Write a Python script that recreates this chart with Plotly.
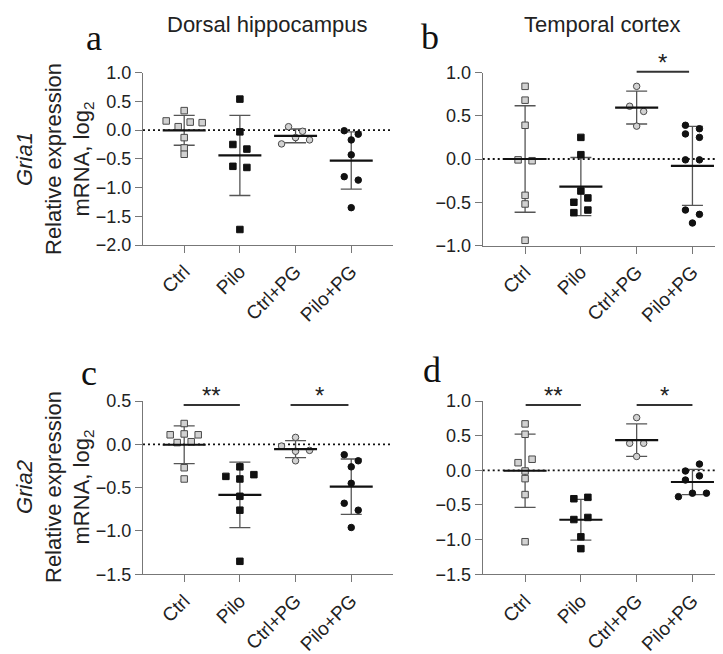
import numpy as np
import plotly.graph_objects as go

# ---------------- data ----------------
categories = ["Ctrl", "Pilo", "Ctrl+PG", "Pilo+PG"]

# a: Gria1, dorsal hippocampus
a_ctrl = [0.16, 0.06, 0.14, 0.13, 0.34, -0.13, -0.31, -0.42]
a_pilo = [0.54, -0.03, -0.25, -0.33, -0.63, -0.65, -1.73]
a_ctrlpg = [0.06, -0.02, -0.24, -0.13, -0.17]
a_pilopg = [-0.01, -0.07, -0.17, -0.43, -0.81, -0.87, -1.35]

# b: Gria1, temporal cortex
b_ctrl = [0.84, 0.68, 0.39, -0.01, -0.02, -0.42, -0.52, -0.94]
b_pilo = [0.25, 0.05, -0.37, -0.50, -0.45, -0.62, -0.59]
b_ctrlpg = [0.84, 0.61, 0.55, 0.38]
b_pilopg = [0.39, 0.35, 0.29, 0.25, -0.01, -0.01, -0.59, -0.64, -0.74]

# c: Gria2, dorsal hippocampus
c_ctrl = [0.24, 0.11, 0.12, 0.11, 0.02, 0.03, -0.27, -0.40]
c_pilo = [-0.26, -0.37, -0.40, -0.35, -0.60, -0.76, -1.35]
c_ctrlpg = [0.08, -0.02, -0.08, -0.07, -0.19]
c_pilopg = [-0.12, -0.19, -0.26, -0.45, -0.68, -0.76, -0.96]

# d: Gria2, temporal cortex
d_ctrl = [0.67, 0.52, 0.11, 0.16, -0.01, -0.12, -0.35, -1.03]
d_pilo = [-0.41, -0.39, -0.71, -0.68, -0.96, -1.13]
d_ctrlpg = [0.76, 0.39, 0.39, 0.20]
d_pilopg = [-0.01, 0.09, -0.14, -0.08, -0.38, -0.33, -0.33]

# significance bars: (panel, from category, to category, height, label)
sig_bars = [
    ("b", 2.0, 2.94, 1.01, "*"),
    ("c", -0.01, 1.0, 0.454, "**"),
    ("c", 1.91, 2.95, 0.454, "*"),
    ("d", 0.01, 1.0, 0.942, "**"),
    ("d", 2.0, 3.0, 0.942, "*"),
]

region_titles = ["Dorsal hippocampus", "Temporal cortex"]
gene_names = ["Gria1", "Gria2"]

# ---------------- layout ----------------
PAGE_W, PAGE_H = 723, 654
BODY = 8                      # default page margin around the plot div
W, H = PAGE_W - BODY, PAGE_H - BODY
FONT = "Liberation Sans, Arial, sans-serif"
SERIF = "Liberation Serif, Times New Roman, serif"
AX = "#777777"

# pixel boxes are given in page pixels
panels = {
    "a": dict(n="", px=[143, 393], py=[72.7, 245.0], xr=[-0.74, 3.75], yr=[-2.0, 1.0],
              data=[a_ctrl, a_pilo, a_ctrlpg, a_pilopg]),
    "b": dict(n="2", px=[482.7, 722], py=[72.5, 245.5], xr=[-0.76, 3.53], yr=[-1.0, 1.0],
              data=[b_ctrl, b_pilo, b_ctrlpg, b_pilopg]),
    "c": dict(n="3", px=[143, 393], py=[401, 574.3], xr=[-0.74, 3.75], yr=[-1.5, 0.5],
              data=[c_ctrl, c_pilo, c_ctrlpg, c_pilopg]),
    "d": dict(n="4", px=[482.7, 722], py=[401, 574.3], xr=[-0.76, 3.53], yr=[-1.5, 1.0],
              data=[d_ctrl, d_pilo, d_ctrlpg, d_pilopg]),
}

group_style = [
    dict(symbol="square", color="#d2d2d2", line="#4a4a4a"),
    dict(symbol="square", color="#111111", line="#111111"),
    dict(symbol="circle", color="#d2d2d2", line="#4a4a4a"),
    dict(symbol="circle", color="#111111", line="#111111"),
]
ROW_PX = {"square": 6.0, "circle": 7.5}   # vertical closeness that puts points in one row
STEP_PX, MAX_ROW_PX = 14.0, 36.0
MEAN_HALF = 0.386   # mean line half-length, category units


def pxp(x):   # page x -> paper
    return (x - BODY) / W


def pyp(y):   # page y -> paper
    return 1 - (y - BODY) / H


def dom(p):
    P = panels[p]
    return [pxp(P["px"][0]), pxp(P["px"][1])], [pyp(P["py"][1]), pyp(P["py"][0])]


def to_paper_x(p, v):
    P = panels[p]; xd, _ = dom(p)
    return xd[0] + (v - P["xr"][0]) / (P["xr"][1] - P["xr"][0]) * (xd[1] - xd[0])


def to_paper_y(p, v):
    P = panels[p]; _, yd = dom(p)
    return yd[0] + (v - P["yr"][0]) / (P["yr"][1] - P["yr"][0]) * (yd[1] - yd[0])


def swarm_offsets(vals, p, symbol):
    """GraphPad-like row layout: close values share a row, spread symmetrically."""
    P = panels[p]
    y_ppu = (P["py"][1] - P["py"][0]) / (P["yr"][1] - P["yr"][0])
    x_ppu = (P["px"][1] - P["px"][0]) / (P["xr"][1] - P["xr"][0])
    thr = ROW_PX[symbol] / y_ppu
    order = sorted(range(len(vals)), key=lambda i: -vals[i])
    rows, cur = [], [order[0]]
    for i in order[1:]:
        if vals[cur[0]] - vals[i] < thr:
            cur.append(i)
        else:
            rows.append(cur); cur = [i]
    rows.append(cur)
    off = [0.0] * len(vals)
    for r in rows:
        r = sorted(r)
        n = len(r)
        if n > 1:
            step = min(STEP_PX, MAX_ROW_PX / (n - 1)) / x_ppu
            for k, i in enumerate(r):
                off[i] = (k - (n - 1) / 2) * step
    return off


fig = go.Figure()
shapes, annotations = [], []

for p, P in panels.items():
    xa, ya = "x" + P["n"], "y" + P["n"]
    # dotted zero line
    fig.add_trace(go.Scatter(x=P["xr"], y=[0, 0], xaxis=xa, yaxis=ya, mode="lines",
                             line=dict(color="#111111", width=1.8, dash="2px,3px"),
                             hoverinfo="skip", showlegend=False))
    for gi, vals in enumerate(P["data"]):
        arr = np.array(vals)
        m, sd = arr.mean(), arr.std(ddof=1)
        st = group_style[gi]
        # SD error bar
        fig.add_trace(go.Scatter(x=[gi], y=[m], xaxis=xa, yaxis=ya, mode="markers",
                                 marker=dict(size=1, color="rgba(0,0,0,0)"),
                                 error_y=dict(type="data", array=[sd], visible=True,
                                              color="#555555", thickness=1.3, width=10.5),
                                 hoverinfo="skip", showlegend=False))
        offs = swarm_offsets(vals, p, st["symbol"])
        fig.add_trace(go.Scatter(x=[gi + o for o in offs], y=vals, xaxis=xa, yaxis=ya,
                                 mode="markers",
                                 marker=dict(symbol=st["symbol"], size=6.5, color=st["color"],
                                             line=dict(color=st["line"], width=1)),
                                 showlegend=False))
        shapes.append(dict(type="line", xref=xa, yref=ya, x0=gi - MEAN_HALF, x1=gi + MEAN_HALF,
                           y0=m, y1=m, line=dict(color="#111111", width=2.2), layer="above"))

for (p, x0, x1, yv, lab) in sig_bars:
    yp = to_paper_y(p, yv)
    shapes.append(dict(type="line", xref="paper", yref="paper",
                       x0=to_paper_x(p, x0), x1=to_paper_x(p, x1), y0=yp, y1=yp,
                       line=dict(color="#333333", width=2)))
    annotations.append(dict(text=lab, xref="paper", yref="paper",
                            x=to_paper_x(p, (x0 + x1) / 2), y=yp, xanchor="center",
                            yanchor="bottom", showarrow=False, yshift=-6,
                            font=dict(family=FONT, size=24, color="#222222")))

# region titles
for txt, xc in zip(region_titles, [267, 602.5]):
    annotations.append(dict(text=txt, xref="paper", yref="paper", x=pxp(xc), y=pyp(25),
                            xanchor="center", yanchor="middle", showarrow=False,
                            font=dict(family=FONT, size=22, color="#222222")))

# y-axis titles (three lines, rotated)
for gene, yc in zip(gene_names, [159, 487]):
    annotations.append(dict(text=f"<i>{gene}</i><br>Relative expression<br>mRNA, log<sub>2</sub>",
                            xref="paper", yref="paper", x=pxp(54), y=pyp(yc),
                            xanchor="center", yanchor="middle", textangle=-90,
                            showarrow=False, font=dict(family=FONT, size=22, color="#222222")))

# panel letters
for lab, (lx, ly) in zip("abcd", [(84, 38), (419, 37), (79, 373), (421, 370)]):
    annotations.append(dict(text=lab, xref="paper", yref="paper", x=pxp(lx), y=pyp(ly),
                            xanchor="left", yanchor="middle", showarrow=False,
                            font=dict(family=SERIF, size=36, color="#111111")))

layout = dict(width=W, height=H, margin=dict(l=0, r=0, t=0, b=0, pad=0, autoexpand=False),
              paper_bgcolor="white", plot_bgcolor="white", showlegend=False,
              shapes=shapes, annotations=annotations)

for p, P in panels.items():
    xd, yd = dom(p)
    n = P["n"]
    layout["xaxis" + n] = dict(domain=xd, range=P["xr"], anchor="y" + n, automargin=False,
                               tickvals=[0, 1, 2, 3], ticktext=categories, tickangle=-45,
                               ticks="outside", ticklen=7, tickwidth=1.2, tickcolor=AX,
                               showline=True, linecolor=AX, linewidth=1.2,
                               showgrid=False, zeroline=False,
                               tickfont=dict(family=FONT, size=19, color="#222222"))
    layout["yaxis" + n] = dict(domain=yd, range=P["yr"], anchor="x" + n, tick0=0, dtick=0.5,
                               automargin=False, tickformat=".1f", ticks="outside", ticklen=7,
                               tickwidth=1.2, tickcolor=AX, showline=True, linecolor=AX,
                               linewidth=1.2, showgrid=False, zeroline=False,
                               tickfont=dict(family=FONT, size=18, color="#222222"))

fig.update_layout(**layout)
fig.write_html("out.html")
